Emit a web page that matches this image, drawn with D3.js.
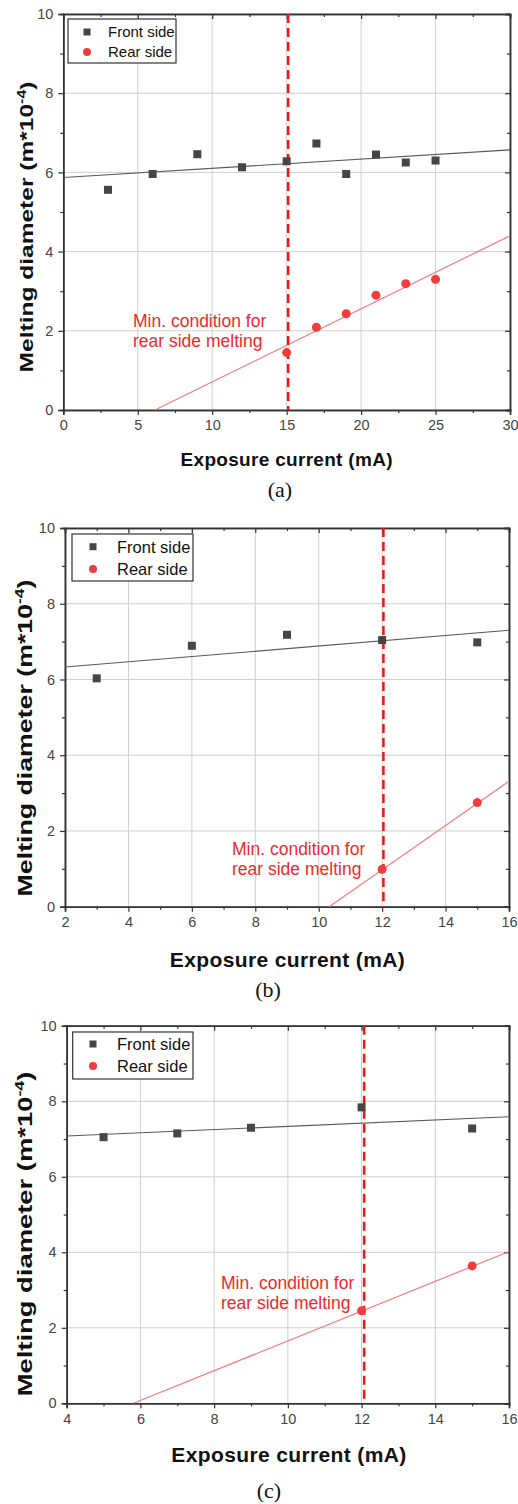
<!DOCTYPE html>
<html>
<head>
<meta charset="utf-8">
<script src="https://cdn.jsdelivr.net/npm/d3@7"></script>
<style>
  body { margin: 0; background: #fff; }
  svg { display: block; font-family: Arial, "Liberation Sans", sans-serif; }
</style>
</head>
<body>
<div id="chart"></div>
<script>
// ---- data ----
// panel (a)
var frontAX = [3, 6, 9, 12, 15, 17, 19, 21, 23, 25];
var frontAY = [5.56, 5.96, 6.46, 6.13, 6.28, 6.73, 5.96, 6.45, 6.25, 6.30];
var rearAX = [15, 17, 19, 21, 23, 25];
var rearAY = [1.45, 2.09, 2.43, 2.90, 3.19, 3.30];
var frontFitA = [[0, 5.87], [30, 6.57]];
var rearFitA = [[6.15, 0], [30, 4.40]];
var thresholdA = 15.1;

// panel (b)
var frontBX = [3, 6, 9, 12, 15];
var frontBY = [6.03, 6.89, 7.18, 7.04, 6.98];
var rearBX = [12, 15];
var rearBY = [0.99, 2.75];
var frontFitB = [[2, 6.33], [16, 7.30]];
var rearFitB = [[10.33, 0], [16, 3.31]];
var thresholdB = 12.04;

// panel (c)
var frontCX = [5, 7, 9, 12, 15];
var frontCY = [7.05, 7.15, 7.30, 7.84, 7.28];
var rearCX = [12, 15];
var rearCY = [2.45, 3.64];
var frontFitC = [[4, 7.08], [16, 7.59]];
var rearFitC = [[5.81, 0], [16, 4.02]];
var thresholdC = 12.07;

var yTicks = [0, 2, 4, 6, 8, 10];
var yMinor = [1, 3, 5, 7, 9];
var xTicksA = [0, 5, 10, 15, 20, 25, 30];
var xMinorA = [2.5, 7.5, 12.5, 17.5, 22.5, 27.5];
var xTicksBC = [2, 4, 6, 8, 10, 12, 14, 16];
var xMinorB = [3, 5, 7, 9, 11, 13, 15];
var xTicksC = [4, 6, 8, 10, 12, 14, 16];
var xMinorC = [5, 7, 9, 11, 13, 15];

var legendLabels = ["Front side", "Rear side"];
var yTitle = "Melting diameter (m*10";
var xTitle = "Exposure current (mA)";
var noteLines = ["Min. condition for", "rear side melting"];

function zip(xs, ys) { return xs.map(function(x, i) { return [x, ys[i]]; }); }

var panels = [
  { left: 63.3, right: 510, top: 14, bottom: 410, xDomain: [0, 30], xTicks: xTicksA, xMinor: xMinorA,
    front: zip(frontAX, frontAY), rear: zip(rearAX, rearAY), frontFit: frontFitA, rearFit: rearFitA, thr: thresholdA,
    legend: [68, 19, 176, 63], legendFont: 15, legendRows: [32, 52], legendMarkX: 87, legendTextX: 108,
    note: [133, 326.7], yTitle: [33, 227, 291, 18.5], xTitle: [286.7, 466, 212, 19], caption: "(a)", capPos: [280, 497] },
  { left: 65, right: 509, top: 528, bottom: 906.7, xDomain: [2, 16], xTicks: xTicksBC, xMinor: xMinorB,
    front: zip(frontBX, frontBY), rear: zip(rearBX, rearBY), frontFit: frontFitB, rearFit: rearFitB, thr: thresholdB,
    legend: [72, 534, 193, 581], legendFont: 16.5, legendRows: [546.7, 569], legendMarkX: 93, legendTextX: 117,
    note: [232, 855], yTitle: [32, 738, 317, 20], xTitle: [287.5, 966.7, 235, 21], caption: "(b)", capPos: [268, 997] },
  { left: 66.7, right: 509, top: 1025.8, bottom: 1403.3, xDomain: [4, 16], xTicks: xTicksC, xMinor: xMinorC,
    front: zip(frontCX, frontCY), rear: zip(rearCX, rearCY), frontFit: frontFitC, rearFit: rearFitC, thr: thresholdC,
    legend: [72.7, 1032, 193, 1079], legendFont: 16.5, legendRows: [1044, 1066], legendMarkX: 93, legendTextX: 117,
    note: [221, 1289.3], yTitle: [32, 1234, 325, 20], xTitle: [289, 1461.7, 235, 21], caption: "(c)", capPos: [269, 1498] }
];

var svg = d3.select("#chart").append("svg")
  .attr("width", 518)
  .attr("height", 1504);

// stretch a text element to a measured width using letter spacing
function fitLength(sel, target) {
  var len = sel.node().getComputedTextLength();
  var n = sel.text().length;
  if (n > 1) sel.attr("letter-spacing", ((target - len) / (n - 1)) + "px");
}

panels.forEach(function(p) {
  var x = d3.scaleLinear().domain(p.xDomain).range([p.left, p.right]);
  var y = d3.scaleLinear().domain([0, 10]).range([p.bottom, p.top]);
  var g = svg.append("g");

  // grid
  g.append("g").selectAll("line").data(p.xTicks).enter().append("line")
    .attr("x1", function(d) { return x(d); }).attr("x2", function(d) { return x(d); })
    .attr("y1", p.top).attr("y2", p.bottom)
    .attr("stroke", "#cfcfcf").attr("stroke-width", 1);
  g.append("g").selectAll("line").data(yTicks).enter().append("line")
    .attr("y1", function(d) { return y(d); }).attr("y2", function(d) { return y(d); })
    .attr("x1", p.left).attr("x2", p.right)
    .attr("stroke", "#cfcfcf").attr("stroke-width", 1);

  // axes: bottom/left outward, top/right inward
  var axes = [
    g.append("g").attr("transform", "translate(0," + p.bottom + ")")
      .call(d3.axisBottom(x).tickValues(p.xTicks).tickSize(5).tickPadding(5).tickFormat(d3.format("d"))),
    g.append("g").attr("transform", "translate(0," + p.bottom + ")")
      .call(d3.axisBottom(x).tickValues(p.xMinor).tickSize(3).tickFormat("")),
    g.append("g").attr("transform", "translate(0," + p.top + ")")
      .call(d3.axisTop(x).tickValues(p.xTicks).tickSize(-5).tickFormat("")),
    g.append("g").attr("transform", "translate(0," + p.top + ")")
      .call(d3.axisTop(x).tickValues(p.xMinor).tickSize(-3).tickFormat("")),
    g.append("g").attr("transform", "translate(" + p.left + ",0)")
      .call(d3.axisLeft(y).tickValues(yTicks).tickSize(5).tickPadding(5).tickFormat(d3.format("d"))),
    g.append("g").attr("transform", "translate(" + p.left + ",0)")
      .call(d3.axisLeft(y).tickValues(yMinor).tickSize(3).tickFormat("")),
    g.append("g").attr("transform", "translate(" + p.right + ",0)")
      .call(d3.axisRight(y).tickValues(yTicks).tickSize(-5).tickFormat("")),
    g.append("g").attr("transform", "translate(" + p.right + ",0)")
      .call(d3.axisRight(y).tickValues(yMinor).tickSize(-3).tickFormat(""))
  ];
  axes.forEach(function(a) {
    a.select(".domain").attr("stroke", "#333").attr("stroke-width", 1.5);
    a.selectAll(".tick line").attr("stroke", "#333").attr("stroke-width", 1.2);
    a.selectAll(".tick text").attr("fill", "#444").style("font-size", "14.5px")
      .style("font-family", "Arial, 'Liberation Sans', sans-serif");
  });

  // fit lines
  var line = d3.line().x(function(d) { return x(d[0]); }).y(function(d) { return y(d[1]); });
  g.append("path").datum(p.frontFit).attr("d", line)
    .attr("fill", "none").attr("stroke", "#5a5a5a").attr("stroke-width", 1.1);
  g.append("path").datum(p.rearFit).attr("d", line)
    .attr("fill", "none").attr("stroke", "#f47a7a").attr("stroke-width", 1.2);

  // threshold line
  g.append("line")
    .attr("x1", x(p.thr)).attr("x2", x(p.thr))
    .attr("y1", p.top).attr("y2", p.bottom)
    .attr("stroke", "#f01414").attr("stroke-width", 2.5)
    .attr("stroke-dasharray", "9,5");

  // points
  g.append("g").selectAll("rect").data(p.front).enter().append("rect")
    .attr("x", function(d) { return x(d[0]) - 4; })
    .attr("y", function(d) { return y(d[1]) - 4; })
    .attr("width", 8).attr("height", 8)
    .attr("fill", "#454545");
  g.append("g").selectAll("circle").data(p.rear).enter().append("circle")
    .attr("cx", function(d) { return x(d[0]); })
    .attr("cy", function(d) { return y(d[1]); })
    .attr("r", 4.5)
    .attr("fill", "#f03c3c");

  // annotation
  var note = g.append("text")
    .attr("x", p.note[0]).attr("y", p.note[1])
    .attr("fill", "#f02828").style("font-size", "17.5px");
  noteLines.forEach(function(t, i) {
    note.append("tspan").attr("x", p.note[0]).attr("dy", i === 0 ? 0 : 20).text(t);
  });

  // legend
  var lg = p.legend;
  g.append("rect")
    .attr("x", lg[0]).attr("y", lg[1])
    .attr("width", lg[2] - lg[0]).attr("height", lg[3] - lg[1])
    .attr("fill", "#fff").attr("stroke", "#333").attr("stroke-width", 1.2);
  g.append("rect")
    .attr("x", p.legendMarkX - 3.5).attr("y", p.legendRows[0] - 3.5)
    .attr("width", 7).attr("height", 7).attr("fill", "#454545");
  g.append("circle")
    .attr("cx", p.legendMarkX).attr("cy", p.legendRows[1]).attr("r", 4)
    .attr("fill", "#f03c3c");
  legendLabels.forEach(function(t, i) {
    g.append("text")
      .attr("x", p.legendTextX).attr("y", p.legendRows[i])
      .attr("dy", "0.36em")
      .style("font-size", p.legendFont + "px")
      .attr("fill", "#111")
      .text(t);
  });

  // y title (rotated, glyphs stretched along the reading direction like the source)
  var ytg = g.append("g");
  var yt = ytg.append("text")
    .attr("text-anchor", "middle")
    .style("font-size", p.yTitle[3] + "px")
    .style("font-weight", "bold")
    .attr("fill", "#111");
  yt.append("tspan").text(yTitle);
  yt.append("tspan").attr("dy", -p.yTitle[3] * 0.4).style("font-size", (p.yTitle[3] * 0.65) + "px").text("-4");
  yt.append("tspan").attr("dy", p.yTitle[3] * 0.4).text(")");
  var ylen = yt.node().getComputedTextLength();
  ytg.attr("transform", "translate(" + p.yTitle[0] + "," + p.yTitle[1] + ") rotate(-90) scale(" + (p.yTitle[2] / ylen) + ",1)");

  // x title
  var xt = g.append("text")
    .attr("x", p.xTitle[0]).attr("y", p.xTitle[1])
    .attr("text-anchor", "middle")
    .style("font-size", p.xTitle[3] + "px")
    .style("font-weight", "bold")
    .attr("fill", "#111")
    .text(xTitle);
  fitLength(xt, p.xTitle[2]);

  // caption
  g.append("text")
    .attr("x", p.capPos[0]).attr("y", p.capPos[1])
    .attr("text-anchor", "middle")
    .style("font-family", "'Times New Roman', 'Liberation Serif', serif")
    .style("font-size", "22px")
    .attr("fill", "#111")
    .text(p.caption);
});
</script>
</body>
</html>
